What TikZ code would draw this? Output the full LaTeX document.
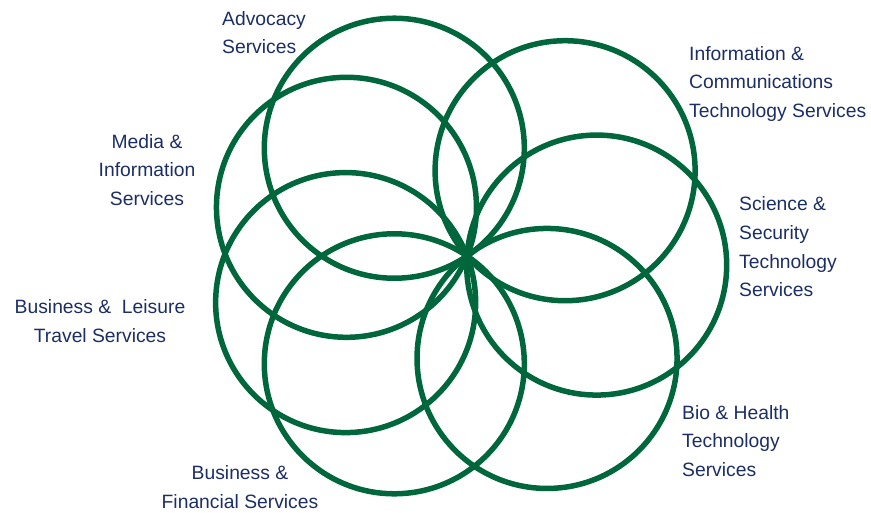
\documentclass[tikz,border=0pt]{standalone}
\usepackage{fontspec}
\setmainfont{Liberation Sans}
\usepackage{xcolor}
\usetikzlibrary{positioning, calc}
\definecolor{ringgreen}{RGB}{0,102,60}
\definecolor{labelblue}{RGB}{28,46,100}

\tikzset{
  ring/.style={draw=ringgreen, line width=5.5pt},
  area/.style={text=labelblue, inner sep=0pt, font=\fontsize{19.3}{28.7}\selectfont}
}

\begin{document}
\begin{tikzpicture}[x=1pt, y=-1pt]
    \useasboundingbox (0,0) rectangle (871,512);

    % common point of all the rings
    \coordinate (P) at (467,256);
    \coordinate (C1) at ($(P)+(124:130pt)$);
    \coordinate (C2) at ($(P)+(41:130pt)$);
    \coordinate (C3) at ($(P)+(-4:130pt)$);
    \coordinate (C4) at ($(P)+(-52:130pt)$);
    \coordinate (C5) at ($(P)+(236:130pt)$);
    \coordinate (C6) at ($(P)+(201:130pt)$);
    \coordinate (C7) at ($(P)+(158:130pt)$);

    \draw [ring] (C1) circle [radius=130pt];
    \draw [ring] (C2) circle [radius=130pt];
    \draw [ring] (C3) circle [radius=130pt];
    \draw [ring] (C4) circle [radius=130pt];
    \draw [ring] (C5) circle [radius=130pt];
    \draw [ring] (C6) circle [radius=130pt];
    \draw [ring] (C7) circle [radius=130pt];

    \node[area, anchor=west, align=left] (advocacy) at (222,32.5) {Advocacy\\
      Services};
    \node[area, anchor=west, align=left] (ict) at (689,84) {Information \&\\
      Communications\\
      Technology Services};
    \node[area, align=center] (media) at (147,170) {Media \&\\
      Information\\
      Services};
    \node[area, anchor=west, align=left] (science) at (739,247) {Science \&\\
      Security\\
      Technology\\
      Services};
    \node[area, align=center] (leisure) at (100,321) {Business \&\ \ Leisure\\
      Travel Services};
    \node[area, anchor=west, align=left] (bio) at (682,441) {Bio \& Health\\
      Technology\\
      Services};
    \node[area, align=center] (financial) at (240,487) {Business \&\\
      Financial Services};
  \end{tikzpicture}
\end{document}
